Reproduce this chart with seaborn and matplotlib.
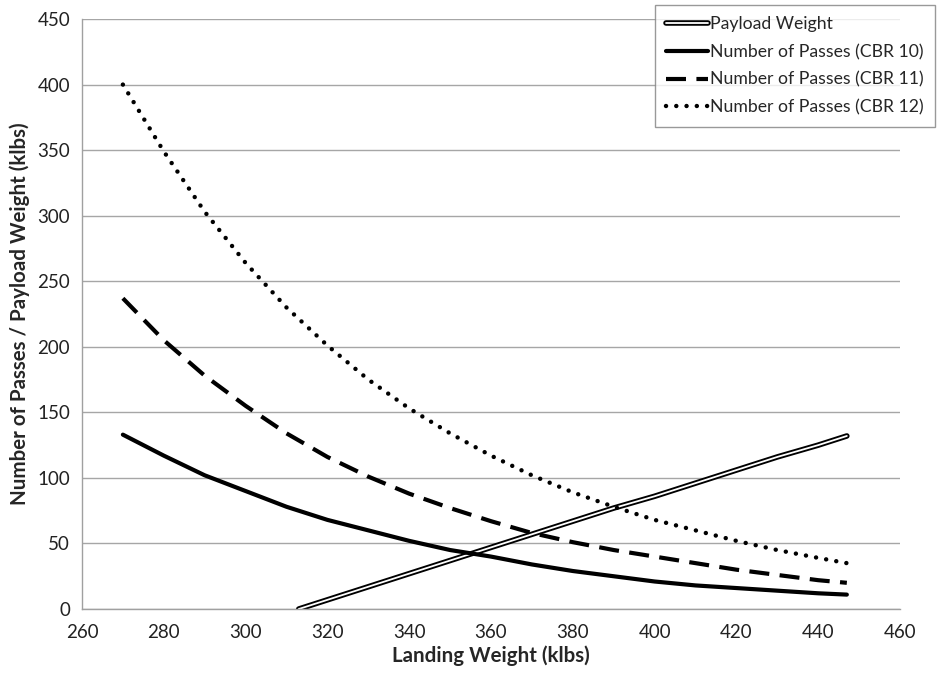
"""
Landing weight vs number of passes / payload weight chart.
"""

import matplotlib
matplotlib.use('Agg')
import matplotlib.pyplot as plt
import matplotlib.patheffects as pe
import seaborn as sns
import pandas as pd

# Landing weight (klbs) for the pass curves
landing_weight = [270, 280, 290, 300, 310, 320, 330, 340, 350, 360,
                  370, 380, 390, 400, 410, 420, 430, 440, 447]
passes_cbr10 = [133, 117, 102, 90, 78, 68, 60, 52, 45, 40,
                34, 29, 25, 21, 18, 16, 14, 12, 11]
passes_cbr11 = [237, 205, 178, 155, 134, 116, 101, 88, 77, 67,
                58, 51, 45, 40, 35, 30, 26, 22, 20]
passes_cbr12 = [400, 349, 303, 264, 230, 201, 175, 153, 134, 117,
                102, 89, 78, 68, 60, 52, 45, 39, 35]

# Payload weight line
payload_x = [313, 320, 330, 340, 350, 360, 370, 380, 390, 400,
             410, 420, 430, 440, 447]
payload_y = [0, 7, 17, 27, 37, 47, 57, 67, 77, 86,
             96, 106, 116, 125, 132]

x_ticks = [260, 280, 300, 320, 340, 360, 380, 400, 420, 440, 460]
y_ticks = [0, 50, 100, 150, 200, 250, 300, 350, 400, 450]

sns.set_style('white')
plt.rcParams['font.family'] = ['Lato', 'DejaVu Sans']

fig = plt.figure(figsize=(9.38, 6.77), dpi=100)
ax = fig.add_axes([0.0874, 0.1004, 0.8721, 0.8715])

df = pd.DataFrame({'w': landing_weight, 'c10': passes_cbr10,
                   'c11': passes_cbr11, 'c12': passes_cbr12})
pay = pd.DataFrame({'w': payload_x, 'p': payload_y})

sns.lineplot(data=pay, x='w', y='p', ax=ax, color='white', linewidth=1.3,
             label='Payload Weight',
             path_effects=[pe.Stroke(linewidth=4.0, foreground='black'), pe.Normal()])
sns.lineplot(data=df, x='w', y='c10', ax=ax, color='black', linewidth=3.0,
             label='Number of Passes (CBR 10)')
sns.lineplot(data=df, x='w', y='c11', ax=ax, color='black', linewidth=3.0,
             label='Number of Passes (CBR 11)', dashes=False,
             linestyle=(0, (4.8, 2.5)))
sns.lineplot(data=df, x='w', y='c12', ax=ax, color='black', linewidth=3.2,
             label='Number of Passes (CBR 12)', dashes=False,
             linestyle=(0, (0.01, 2.3)))
ax.lines[3].set_dash_capstyle('round')

ax.set_xlim(260, 460)
ax.set_ylim(0, 450)
ax.set_xticks(x_ticks)
ax.set_yticks(y_ticks)
ax.tick_params(axis='both', labelsize=13.5, colors='#222222', length=5,
               width=1, direction='out', color='#a0a0a0')
ax.tick_params(axis='x', pad=6)
ax.yaxis.grid(True, color='#a6a6a6', linewidth=1)
ax.set_axisbelow(True)
for side in ['top', 'right']:
    ax.spines[side].set_visible(False)
for side in ['left', 'bottom']:
    ax.spines[side].set_color('#a0a0a0')
    ax.spines[side].set_linewidth(1)

ax.set_xlabel('Landing Weight (klbs)', fontsize=14.8, fontweight='bold', labelpad=3)
ax.set_ylabel('Number of Passes / Payload Weight (klbs)', fontsize=14.8,
              fontweight='bold', labelpad=5)

leg = ax.legend(loc='upper right', bbox_to_anchor=(0.997, 0.993),
                bbox_transform=fig.transFigure, fontsize=12.7, frameon=True,
                fancybox=False, handlelength=2.4, handletextpad=0.1,
                borderpad=0.65, labelspacing=0.66, borderaxespad=0)
leg.get_frame().set_edgecolor('#808080')
leg.get_frame().set_linewidth(1)

plt.savefig('out.png', dpi=100)
